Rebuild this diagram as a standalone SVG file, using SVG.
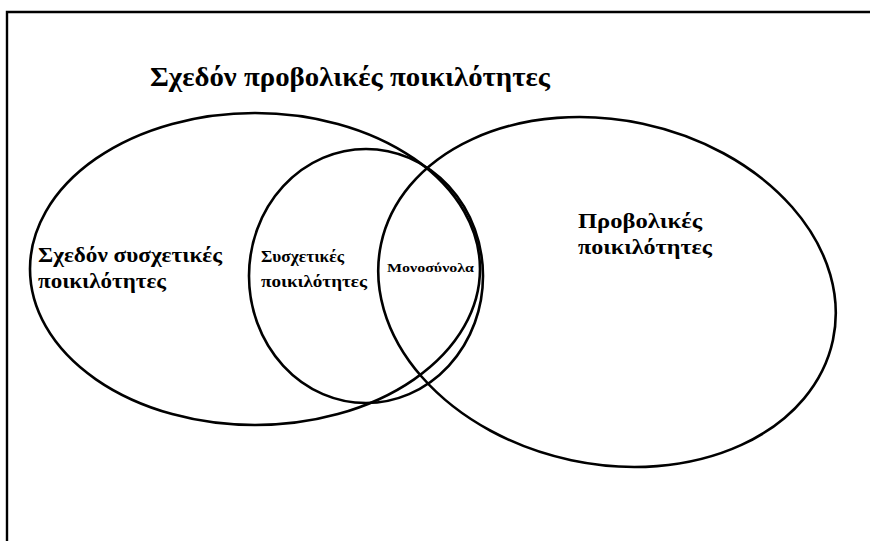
<svg xmlns="http://www.w3.org/2000/svg" width="870" height="541" viewBox="0 0 870 541">
<style>
.shape{fill:none;stroke:#000;stroke-width:2.6}
.frame{fill:none;stroke:#000;stroke-width:2.4}
text{font-family:"Liberation Serif","Times New Roman",serif;font-weight:bold;fill:#000}
</style>
<rect width="870" height="541" fill="#fff"/>
<path class="frame" d="M7,541 V12 H870"/>
<g id="title"><text x="150" y="86" font-size="28" textLength="400" lengthAdjust="spacingAndGlyphs">Σχεδόν προβολικές ποικιλότητες</text></g>
<g id="almost-affine">
<ellipse class="shape" cx="255" cy="269" rx="225" ry="156"/>
<text x="38" y="262" font-size="21" textLength="184" lengthAdjust="spacingAndGlyphs">Σχεδόν συσχετικές</text>
<text x="38" y="288" font-size="21" textLength="128" lengthAdjust="spacingAndGlyphs">ποικιλότητες</text>
</g>
<g id="projective">
<ellipse class="shape" cx="607" cy="292" rx="231" ry="172" transform="rotate(12 607 292)"/>
<text x="578" y="228" font-size="22" textLength="124" lengthAdjust="spacingAndGlyphs">Προβολικές</text>
<text x="578" y="254" font-size="22" textLength="134" lengthAdjust="spacingAndGlyphs">ποικιλότητες</text>
</g>
<g id="affine">
<ellipse class="shape" cx="366" cy="276" rx="117" ry="127"/>
<text x="261" y="262" font-size="17" textLength="83" lengthAdjust="spacingAndGlyphs">Συσχετικές</text>
<text x="261" y="287" font-size="17" textLength="106" lengthAdjust="spacingAndGlyphs">ποικιλότητες</text>
</g>
<g id="singletons">
<text x="387" y="272" font-size="12" textLength="87" lengthAdjust="spacingAndGlyphs">Μονοσύνολα</text>
</g>
<g id="connectors"></g>
</svg>
